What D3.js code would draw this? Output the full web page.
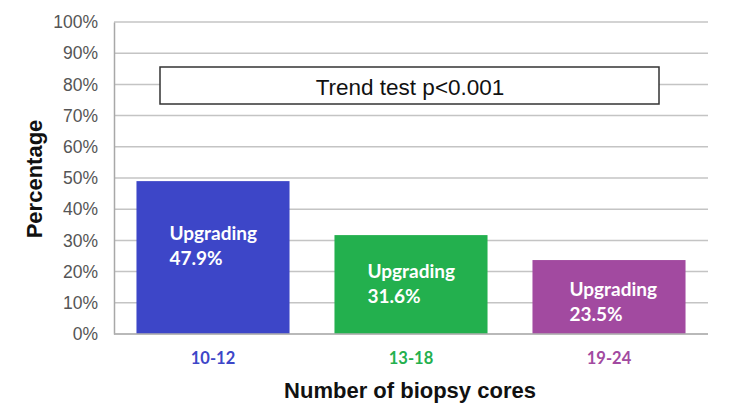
<!DOCTYPE html>
<html><head><meta charset="utf-8">
<script src="https://cdn.jsdelivr.net/npm/d3@7"></script>
<style>body{margin:0;background:#fff}svg{display:block}</style>
</head><body><svg id="c" width="737" height="411"></svg>
<script>
const categories = ["10-12", "13-18", "19-24"];
const barValues = [49.0, 31.7, 23.7];          // bar heights as drawn (%)
const labelValues = ["47.9%", "31.6%", "23.5%"]; // printed labels
const labelAnchors = [30.1, 17.9, 12.2];        // baseline of first label line (%)
const barColors = ["#3d46c8", "#23b04e", "#a24aa0"];
const yTicks = [0,10,20,30,40,50,60,70,80,90,100];
const annotation = "Trend test p<0.001";

const svg = d3.select("#c");
const m = {l:114, r:708, t:22, b:334};
const x = d3.scaleBand().domain(categories).range([m.l, m.r]).paddingInner(0.227).paddingOuter(0.1135);
const y = d3.scaleLinear().domain([0,100]).range([m.b, m.t]);

// gridlines
svg.append("g").selectAll("line").data(yTicks).join("line")
  .attr("x1", m.l).attr("x2", m.r)
  .attr("y1", d=>y(d)).attr("y2", d=>y(d))
  .attr("stroke", "#c4c4c4").attr("stroke-width", 1.5);

// y axis
const ya = svg.append("g").attr("transform", `translate(${m.l},0)`)
  .call(d3.axisLeft(y).tickValues(yTicks).tickFormat(d=>d+"%").tickSize(0).tickPadding(16));
ya.select(".domain").attr("stroke", "#a8a8a8").attr("stroke-width", 1.5);
ya.selectAll("text").attr("font-family", "Liberation Sans, Arial, sans-serif")
  .attr("font-size", 17.5).attr("fill", "#555");

// bars
svg.append("g").selectAll("rect").data(categories).join("rect")
  .attr("x", d=>x(d)).attr("width", x.bandwidth())
  .attr("y", (d,i)=>y(barValues[i])).attr("height", (d,i)=>y(0)-y(barValues[i]))
  .attr("fill", (d,i)=>barColors[i]);

// baseline
svg.append("line").attr("x1", m.l).attr("x2", m.r).attr("y1", y(0)).attr("y2", y(0))
  .attr("stroke", "#b0b0b0").attr("stroke-width", 1.5);

// bar labels
const lg = svg.append("g").attr("font-family", "Lato, 'Open Sans', sans-serif")
  .attr("font-weight", "bold").attr("font-size", 19).attr("fill", "#fff");
categories.forEach((c,i)=>{
  const lx = x(c) + (i===2 ? 37 : 33);
  lg.append("text").attr("x", lx).attr("y", y(labelAnchors[i])).text("Upgrading");
  lg.append("text").attr("x", lx).attr("y", y(labelAnchors[i]) + 25).text(labelValues[i]);
});

// x category labels
svg.append("g").selectAll("text").data(categories).join("text")
  .attr("x", d=>x(d)+x.bandwidth()/2).attr("y", 364)
  .attr("text-anchor", "middle").attr("font-family", "Lato, 'Open Sans', sans-serif")
  .attr("font-weight", "bold").attr("font-size", 16.5).attr("fill", (d,i)=>barColors[i])
  .text(d=>d);

// annotation box
svg.append("rect").attr("x", 160).attr("y", 67).attr("width", 499).attr("height", 37)
  .attr("fill", "#fff").attr("stroke", "#333").attr("stroke-width", 1.5);
svg.append("text").attr("x", 410).attr("y", 95).attr("text-anchor", "middle")
  .attr("font-family", "Liberation Sans, Arial, sans-serif").attr("font-size", 22.5).attr("fill", "#111")
  .text(annotation);

// axis titles
svg.append("text").attr("transform", `translate(42,179) rotate(-90)`).attr("text-anchor", "middle")
  .attr("font-family", "Liberation Sans, Arial, sans-serif").attr("font-weight", "bold")
  .attr("font-size", 22).attr("fill", "#111").text("Percentage");
svg.append("text").attr("x", 410).attr("y", 398).attr("text-anchor", "middle")
  .attr("font-family", "Liberation Sans, Arial, sans-serif").attr("font-weight", "bold")
  .attr("font-size", 22).attr("fill", "#111").text("Number of biopsy cores");
</script></body></html>
